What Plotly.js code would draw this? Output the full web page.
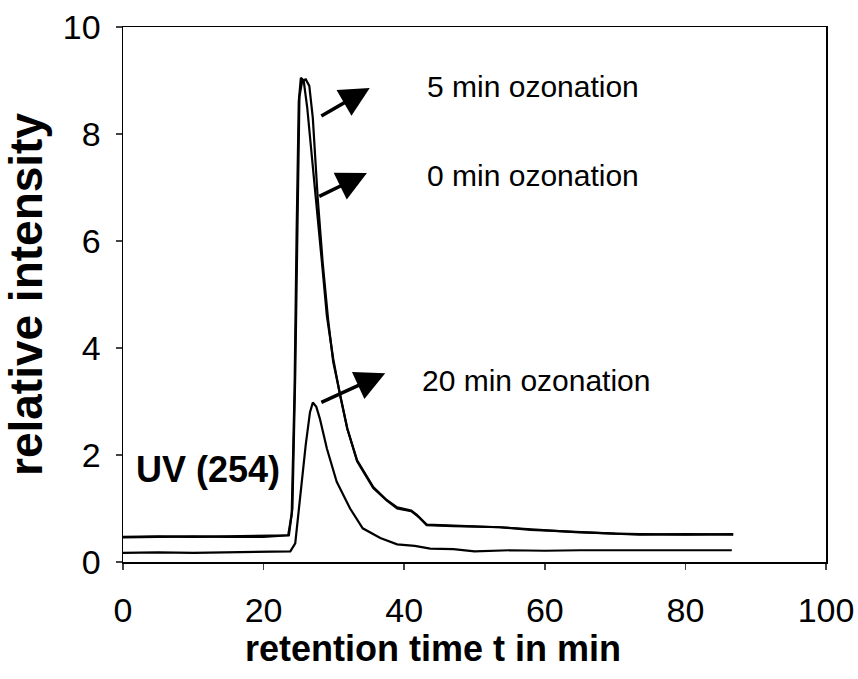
<!DOCTYPE html>
<html>
<head>
<meta charset="utf-8">
<script src="https://cdn.plot.ly/plotly-3.0.1.min.js"></script>
<style>html,body{margin:0;padding:0;background:#fff;}#chart{width:858px;height:679px;}</style>
</head>
<body>
<div id="chart"></div>
<script>
// retention time (min) and relative intensity
const t0min = [0, 5, 10, 15, 20, 23.5, 24.0, 24.4, 24.7, 25.0, 25.3, 25.7, 26.2, 26.8, 27.5, 28.3, 29.0, 29.9, 30.9, 31.9, 33.3, 35.6, 37.5, 39.0, 41.0, 42.0, 43.2, 47, 53.6, 58, 64.3, 70, 73.5, 80, 86.8];
const v0min = [0.47, 0.48, 0.47, 0.48, 0.48, 0.5, 0.9, 3.2, 6.2, 8.6, 9.05, 9.0, 8.5, 7.6, 6.7, 5.6, 4.6, 3.8, 3.1, 2.5, 1.88, 1.38, 1.15, 1.0, 0.95, 0.85, 0.70, 0.68, 0.65, 0.6, 0.56, 0.53, 0.52, 0.51, 0.52];
const t5min = [0, 5, 10, 15, 20, 23.6, 24.1, 24.5, 24.8, 25.1, 25.5, 26.0, 26.5, 27.0, 27.7, 28.4, 29.2, 29.9, 30.9, 31.9, 33.3, 35.6, 37.5, 39.0, 41.0, 41.8, 43.2, 47, 53.6, 58, 64.3, 70, 73.5, 80, 86.8];
const v5min = [0.46, 0.47, 0.48, 0.47, 0.47, 0.5, 1.0, 3.5, 6.5, 8.7, 9.0, 9.02, 8.9, 8.3, 6.8, 5.6, 4.5, 3.74, 3.12, 2.49, 1.9, 1.4, 1.16, 1.02, 0.96, 0.88, 0.69, 0.67, 0.65, 0.61, 0.56, 0.53, 0.51, 0.52, 0.51];
const t20min = [0, 5, 10, 15, 20, 23.8, 24.5, 25.2, 26.0, 26.6, 27.0, 27.5, 28.0, 29.0, 30.4, 32.3, 34.1, 36.6, 39.0, 41.5, 43.7, 47, 50, 55, 60, 65, 70, 75, 80, 86.6];
const v20min = [0.17, 0.18, 0.17, 0.18, 0.18, 0.2, 0.35, 1.25, 2.2, 2.8, 2.98, 2.9, 2.68, 2.12, 1.5, 1.0, 0.63, 0.45, 0.33, 0.3, 0.25, 0.24, 0.2, 0.22, 0.21, 0.22, 0.22, 0.22, 0.22, 0.22];

const seriesLabels = ["5 min ozonation", "0 min ozonation", "20 min ozonation"];
const xTicks = [0, 20, 40, 60, 80, 100];
const yTicks = [0, 2, 4, 6, 8, 10];

const FONT = "Liberation Sans, Arial, sans-serif";
const line = {color: "#000", width: 2.2};

const traces = [
  {x: t0min, y: v0min, mode: "lines", line: line, name: seriesLabels[1]},
  {x: t5min, y: v5min, mode: "lines", line: line, name: seriesLabels[0]},
  {x: t20min, y: v20min, mode: "lines", line: line, name: seriesLabels[2]}
];

function arrow(tailX, tailY, tipX, tipY) {
  return {x: tipX, y: tipY, ax: tailX, ay: tailY, xref: "x", yref: "y", axref: "x", ayref: "y",
    text: "", showarrow: true, arrowhead: 2, arrowsize: 1.7, arrowwidth: 3.5, arrowcolor: "#000"};
}
function label(txt, x, y) {
  return {x: x, y: y, xref: "x", yref: "y", text: txt, showarrow: false, xanchor: "left", yanchor: "middle",
    font: {family: FONT, size: 30, color: "#000"}};
}

const layout = {
  width: 858, height: 679,
  margin: {l: 123, r: 32, t: 27, b: 117},
  paper_bgcolor: "#fff", plot_bgcolor: "#fff",
  showlegend: false,
  font: {family: FONT, color: "#000"},
  xaxis: {range: [0, 100], tickvals: xTicks, ticks: "outside", ticklen: 6, tickwidth: 1.5,
    showline: true, linecolor: "#000", linewidth: 1.5, mirror: true, showgrid: false, zeroline: false,
    tickfont: {family: FONT, size: 34, color: "#000"}, ticklabelstandoff: 12},
  yaxis: {range: [0, 10], tickvals: yTicks, ticks: "outside", ticklen: 6, tickwidth: 1.5,
    showline: true, linecolor: "#000", linewidth: 1.5, mirror: true, showgrid: false, zeroline: false,
    tickfont: {family: FONT, size: 34, color: "#000"}, ticklabelstandoff: 8,
    title: {text: "relative intensity", font: {family: FONT, size: 46, color: "#000", weight: "bold"}, standoff: 10}},
  annotations: [
    arrow(28.0, 8.32, 35.1, 8.86),
    arrow(27.7, 6.82, 34.7, 7.27),
    arrow(28.0, 2.97, 37.3, 3.53),
    label(seriesLabels[0], 43.0, 8.88),
    label(seriesLabels[1], 43.0, 7.23),
    label(seriesLabels[2], 42.3, 3.4),
    {x: 1.6, y: 1.72, xref: "x", yref: "y", text: "<b>UV (254)</b>", showarrow: false, xanchor: "left", yanchor: "middle",
      font: {family: FONT, size: 36, color: "#000"}},
    {x: 0.441, y: 0, xref: "paper", yref: "paper", yshift: -86, text: "<b>retention time t in min</b>", showarrow: false,
      xanchor: "center", yanchor: "middle", font: {family: FONT, size: 36, color: "#000"}}
  ]
};

Plotly.newPlot("chart", traces, layout, {staticPlot: true, displayModeBar: false});
</script>
</body>
</html>
